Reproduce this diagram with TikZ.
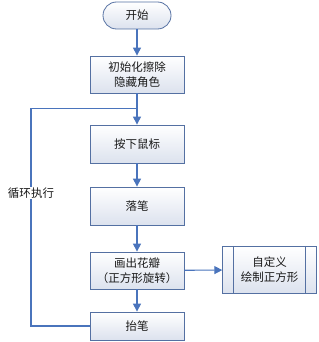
\documentclass[tikz,border=0pt]{standalone}
\usepackage{fontspec}
\setmainfont{Noto Sans CJK SC}
\usetikzlibrary{arrows.meta,positioning}
\definecolor{bordc}{HTML}{5470A2}
\definecolor{linec}{HTML}{4A74BC}
\definecolor{fillb}{HTML}{DCE2EE}
\definecolor{txtc}{HTML}{1A1A1A}
\tikzset{
  x=1pt,y=1pt,
  box/.style={draw=bordc, line width=0.8pt, top color=white, bottom color=fillb,
    minimum width=94pt, align=center, inner sep=0pt, text=txtc,
    font=\fontsize{11.5}{15}\selectfont},
  conn/.style={draw=linec, line width=1.1pt},
  arr/.style={conn, -{Triangle[length=8pt,width=8pt]}},
}
\begin{document}
\begin{tikzpicture}
\useasboundingbox (0,0) rectangle (318,-342);
\node[box, minimum width=68pt, minimum height=27pt, rounded corners=13.5pt] (start) at (137,-15.5) {开始};
\node[box, minimum height=37pt] (b1) at (137,-74.5) {初始化擦除\\隐藏角色};
\node[box, minimum height=38pt] (b2) at (137,-144) {按下鼠标};
\node[box, minimum height=38pt] (b3) at (137,-206) {落笔};
\node[box, minimum height=37pt] (b4) at (137,-270.5) {画出花瓣\\（正方形旋转）};
\node[box, minimum height=28pt] (b5) at (137,-326) {抬笔};
\node[box, minimum height=47pt] (sub) at (269.7,-269.8) {自定义\\绘制正方形};
\draw[draw=bordc, line width=0.8pt] ([xshift=11.3pt]sub.north west) -- ([xshift=11.3pt]sub.south west);
\draw[draw=bordc, line width=0.8pt] ([xshift=-11.3pt]sub.north east) -- ([xshift=-11.3pt]sub.south east);
\coordinate (loopL) at (31,-108.7);
\coordinate (loopJ) at (137,-108.7);
\draw[arr] (start) -- (b1);
\draw[arr] (b1) -- (b2);
\draw[arr] (b2) -- (b3);
\draw[arr] (b3) -- (b4);
\draw[arr] (b4) -- (b5);
\draw[arr] (b4) -- (sub);
\draw[conn] (b5.west) -| (loopL) -- (loopJ);
\node[fill=white, inner sep=1pt, text=txtc, font=\fontsize{11.5}{15}\selectfont] (lbl) at (31,-193) {循环执行};
\end{tikzpicture}
\end{document}
